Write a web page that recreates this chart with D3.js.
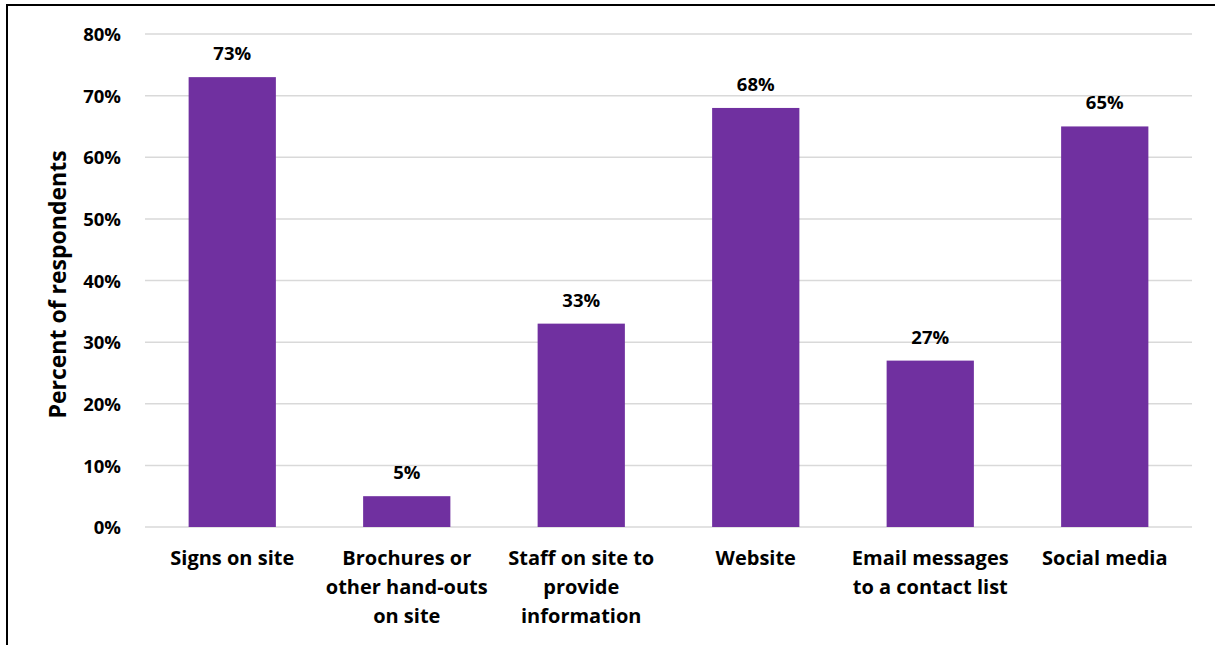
<!DOCTYPE html>
<html>
<head>
<meta charset="utf-8">
<script src="https://cdn.jsdelivr.net/npm/d3@7"></script>
<style>
  html, body { margin: 0; padding: 0; background: #fff; }
  svg { display: block; }
  text { font-family: "Open Sans", Lato, "DejaVu Sans", sans-serif; font-weight: bold; fill: #000; }
</style>
</head>
<body>
<svg id="chart" width="1215" height="645"></svg>
<script>
// Communication channels and share of respondents (%)
const categories = [
  "Signs on site",
  "Brochures or other hand-outs on site",
  "Staff on site to provide information",
  "Website",
  "Email messages to a contact list",
  "Social media"
];
const values = [73, 5, 33, 68, 27, 65];
const yTicks = [0, 10, 20, 30, 40, 50, 60, 70, 80];
const yTitle = "Percent of respondents";

const FONT = "'Open Sans', Lato, sans-serif";
const svg = d3.select("#chart");
const W = 1215, H = 645;
const margin = { top: 34, right: 23, bottom: 118, left: 145 };
const plotW = W - margin.left - margin.right;
const plotH = H - margin.top - margin.bottom;

// frame (top and left edges)
svg.append("line").attr("x1", 6).attr("x2", W).attr("y1", 5).attr("y2", 5)
  .attr("stroke", "#000").attr("stroke-width", 2);
svg.append("line").attr("x1", 7).attr("x2", 7).attr("y1", 5).attr("y2", H)
  .attr("stroke", "#000").attr("stroke-width", 2);

const g = svg.append("g").attr("transform", `translate(${margin.left},${margin.top})`);

const x = d3.scaleBand().domain(categories).range([0, plotW]).paddingInner(0.5).paddingOuter(0.25);
const y = d3.scaleLinear().domain([0, 80]).range([plotH, 0]);

// horizontal gridlines
g.append("g")
  .selectAll("line")
  .data(yTicks)
  .join("line")
  .attr("x1", 0).attr("x2", plotW)
  .attr("y1", d => y(d)).attr("y2", d => y(d))
  .attr("stroke", "#d9d9d9").attr("stroke-width", 1.5);

// y axis labels
const yAxis = g.append("g")
  .attr("transform", "translate(-24,0)")
  .call(d3.axisLeft(y).tickValues(yTicks).tickFormat(d => d + "%").tickSize(0).tickPadding(0));
yAxis.select(".domain").remove();
yAxis.selectAll("text").attr("font-size", 18.5).attr("dy", "0.36em")
  .style("font-family", FONT).style("font-weight", "bold").attr("fill", "#000");

// bars
g.append("g")
  .selectAll("rect")
  .data(values)
  .join("rect")
  .attr("x", (d, i) => x(categories[i]))
  .attr("width", x.bandwidth())
  .attr("y", d => y(d))
  .attr("height", d => plotH - y(d))
  .attr("fill", "#7030a0");

// value labels
g.append("g")
  .selectAll("text")
  .data(values)
  .join("text")
  .attr("x", (d, i) => x(categories[i]) + x.bandwidth() / 2)
  .attr("y", d => y(d) - 17)
  .attr("text-anchor", "middle")
  .attr("font-size", 18.5)
  .text(d => d + "%");

// category labels, wrapped to the band width
const xAxis = g.append("g")
  .attr("transform", `translate(0,${plotH})`)
  .call(d3.axisBottom(x).tickSize(0).tickPadding(0));
xAxis.select(".domain").remove();
xAxis.selectAll("text")
  .attr("font-size", 20)
  .attr("dy", null)
  .style("font-family", FONT).style("font-weight", "bold").attr("fill", "#000")
  .each(function() { wrap(d3.select(this), 172); });

function wrap(text, width) {
  const words = text.text().split(/\s+/);
  text.text(null);
  const lineH = 29, firstY = 38;
  let line = [];
  let lineNo = 0;
  let tspan = text.append("tspan").attr("x", 0).attr("y", firstY);
  for (const w of words) {
    line.push(w);
    tspan.text(line.join(" "));
    if (tspan.node().getComputedTextLength() > width && line.length > 1) {
      line.pop();
      tspan.text(line.join(" "));
      line = [w];
      lineNo++;
      tspan = text.append("tspan").attr("x", 0).attr("y", firstY + lineNo * lineH).text(w);
    }
  }
}

// y axis title
svg.append("text")
  .attr("transform", `translate(66,${margin.top + plotH / 2 + 4}) rotate(-90)`)
  .attr("text-anchor", "middle")
  .attr("font-size", 23)
  .text(yTitle);
</script>
</body>
</html>
